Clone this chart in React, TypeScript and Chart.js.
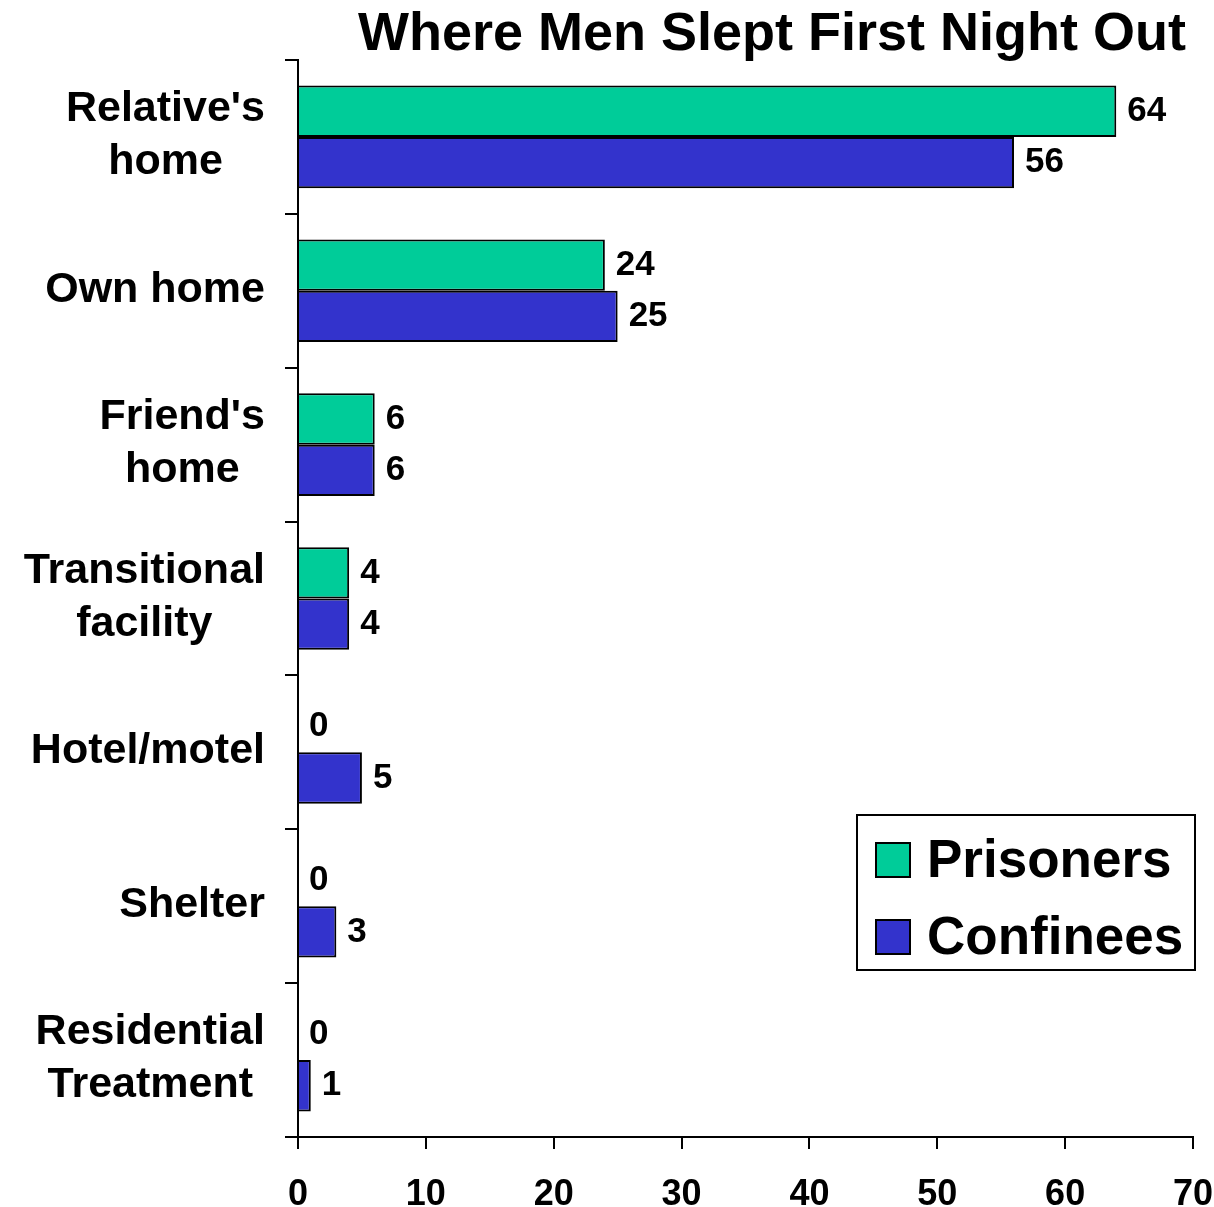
import React, { useEffect, useRef } from "react";
import { Chart, registerables } from "chart.js";

Chart.register(...registerables);

const titleText = "Where Men Slept First Night Out";
const categories: string[][] = [
  ["Relative's", "home"],
  ["Own home"],
  ["Friend's", "home"],
  ["Transitional", "facility"],
  ["Hotel/motel"],
  ["Shelter"],
  ["Residential", "Treatment"],
];
const seriesNames = ["Prisoners", "Confinees"];
const prisoners = [64, 24, 6, 4, 0, 0, 0];
const confinees = [56, 25, 6, 4, 5, 3, 1];
const seriesColors = ["#00CC99", "#3333CC"];
const xMin = 0;
const xMax = 70;
const xStep = 10;

const FONT = "'Liberation Sans', Arial, sans-serif";

export default function App() {
  const ref = useRef<HTMLCanvasElement | null>(null);

  useEffect(() => {
    const canvas = ref.current;
    if (!canvas) return;

    const overlay = {
      id: "overlay",
      afterDraw(chart: any) {
        const ctx = chart.ctx;
        const yScale = chart.scales.y;
        const xScale = chart.scales.x;
        const area = chart.chartArea;
        ctx.save();
        // title
        ctx.fillStyle = "#000";
        ctx.font = `bold 54px ${FONT}`;
        ctx.textAlign = "right";
        ctx.textBaseline = "middle";
        ctx.fillText(titleText, 1186, 35);

        // category labels
        ctx.font = `bold 43px ${FONT}`;
        const lh = 53;
        categories.forEach((lines, i) => {
          const yc = yScale.getPixelForTick(i) - 1;
          let maxW = 0;
          lines.forEach((l) => (maxW = Math.max(maxW, ctx.measureText(l).width)));
          const cx = area.left - 33 - maxW / 2;
          ctx.textAlign = "center";
          lines.forEach((l, k) => {
            const y = yc - ((lines.length - 1) * lh) / 2 + k * lh;
            ctx.fillText(l, cx, y);
          });
        });

        // data labels
        ctx.font = `bold 35px ${FONT}`;
        ctx.textAlign = "left";
        ctx.textBaseline = "middle";
        chart.data.datasets.forEach((ds: any, di: number) => {
          const meta = chart.getDatasetMeta(di);
          meta.data.forEach((bar: any, i: number) => {
            const v = ds.data[i];
            ctx.fillText(String(v), xScale.getPixelForValue(v) + 11, bar.y);
          });
        });

        // legend
        const bx = 857, by = 815, bw = 338, bh = 155;
        ctx.fillStyle = "#fff";
        ctx.fillRect(bx, by, bw, bh);
        ctx.strokeStyle = "#000";
        ctx.lineWidth = 2;
        ctx.strokeRect(bx, by, bw, bh);
        ctx.font = `bold 53px ${FONT}`;
        chart.data.datasets.forEach((ds: any, di: number) => {
          const cy = by + 45 + di * 77;
          ctx.fillStyle = ds.backgroundColor;
          ctx.fillRect(bx + 19, cy - 17, 34, 34);
          ctx.strokeStyle = "#000";
          ctx.lineWidth = 2;
          ctx.strokeRect(bx + 19, cy - 17, 34, 34);
          ctx.fillStyle = "#000";
          ctx.textAlign = "left";
          ctx.textBaseline = "middle";
          ctx.fillText(ds.label, bx + 70, cy + 2);
        });
        ctx.restore();
      },
    };

    const chart = new Chart(canvas, {
      type: "bar",
      data: {
        labels: categories,
        datasets: [
          {
            label: seriesNames[0],
            data: prisoners,
            backgroundColor: seriesColors[0],
            borderColor: "#000",
            borderWidth: 2,
            categoryPercentage: 0.667,
            barPercentage: 1,
          },
          {
            label: seriesNames[1],
            data: confinees,
            backgroundColor: seriesColors[1],
            borderColor: "#000",
            borderWidth: 2,
            categoryPercentage: 0.667,
            barPercentage: 1,
          },
        ],
      },
      options: {
        indexAxis: "y",
        responsive: false,
        animation: false,
        layout: { padding: { top: 60, right: 21, left: 0, bottom: 0 } },
        plugins: {
          legend: { display: false },
          title: { display: false },
          tooltip: { enabled: false },
        },
        scales: {
          x: {
            min: xMin,
            max: xMax,
            ticks: {
              stepSize: xStep,
              color: "#000",
              font: { family: FONT, size: 36, weight: "bold" },
              padding: 24,
              maxRotation: 0,
            },
            grid: {
              drawOnChartArea: false,
              drawTicks: true,
              tickLength: 12,
              color: "#000",
              lineWidth: 2,
            },
            border: { color: "#000", width: 2 },
            afterFit(scale: any) {
              scale.height = 70;
              scale.paddingLeft = 0;
              scale.paddingRight = 0;
            },
          },
          y: {
            ticks: { display: false },
            grid: {
              drawOnChartArea: false,
              drawTicks: true,
              tickLength: 13,
              color: "#000",
              lineWidth: 2,
              offset: true,
            },
            border: { color: "#000", width: 2 },
            afterFit(scale: any) {
              scale.width = 298;
              scale.paddingTop = 0;
              scale.paddingBottom = 0;
            },
          },
        },
      },
      plugins: [overlay],
    } as any);

    return () => chart.destroy();
  }, []);

  return (
    <div style={{ position: "absolute", left: 0, top: 0, width: 1214, height: 1207, background: "#fff" }}>
      <canvas ref={ref} width={1214} height={1207} style={{ display: "block" }} />
    </div>
  );
}
